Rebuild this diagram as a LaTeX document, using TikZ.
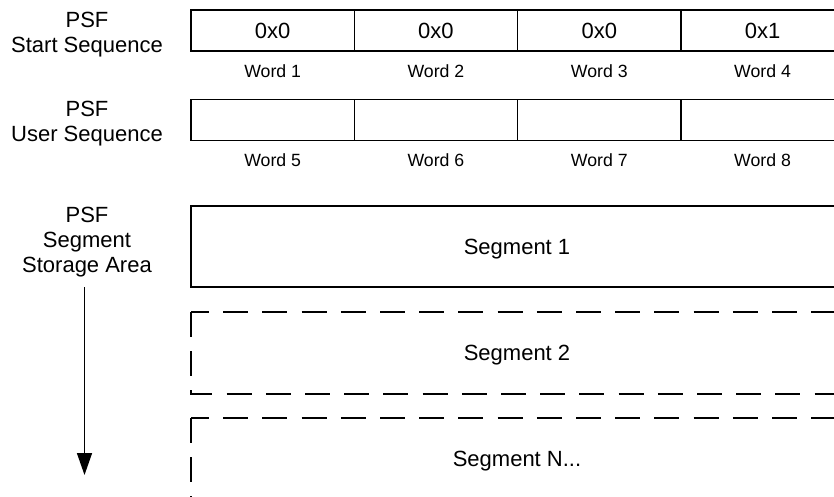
\documentclass[tikz,border=0pt]{standalone}
\usepackage{fontspec}
\setmainfont{Liberation Sans}
\usetikzlibrary{arrows.meta}

\newcommand{\bigfont}{\fontsize{22}{25}\selectfont}
\newcommand{\wordfont}{\fontsize{17.7}{21}\selectfont}

\tikzset{
    cell/.style={draw, line width=1.5pt, minimum width=163.3pt, minimum height=41pt, inner sep=0pt, font=\bigfont},
    wordlbl/.style={inner sep=0pt, font=\wordfont},
    sidelbl/.style={anchor=north, align=center, inner sep=0pt, font=\bigfont},
    segbox/.style={draw, line width=1.5pt, minimum width=652pt, minimum height=81pt, inner sep=0pt, text depth=0pt, font=\bigfont},
    segfree/.style={minimum width=652pt, minimum height=82pt, inner sep=0pt, outer sep=0pt, text depth=0pt, font=\bigfont},
    dashline/.style={line width=1.5pt, dash pattern=on 25pt off 14.2pt}
}

\begin{document}
\begin{tikzpicture}[x=1pt, y=-1pt]
    \clip (0,0) rectangle (834,497);
    \pgfmathsetmacro{\xa}{272.65}
    \pgfmathsetmacro{\xb}{\xa+163.3}
    \pgfmathsetmacro{\xc}{\xb+163.3}
    \pgfmathsetmacro{\xd}{\xc+163.3}

    % start sequence
    \node[cell] (s1) at (\xa,30.5) {0x0};
    \node[cell] (s2) at (\xb,30.5) {0x0};
    \node[cell] (s3) at (\xc,30.5) {0x0};
    \node[cell] (s4) at (\xd,30.5) {0x1};
    \node[wordlbl] (w1) at (\xa,71.5) {Word 1};
    \node[wordlbl] (w2) at (\xb,71.5) {Word 2};
    \node[wordlbl] (w3) at (\xc,71.5) {Word 3};
    \node[wordlbl] (w4) at (\xd,71.5) {Word 4};

    % user sequence
    \node[cell] (u1) at (\xa,120) {};
    \node[cell] (u2) at (\xb,120) {};
    \node[cell] (u3) at (\xc,120) {};
    \node[cell] (u4) at (\xd,120) {};
    \node[wordlbl] (w5) at (\xa,160.5) {Word 5};
    \node[wordlbl] (w6) at (\xb,160.5) {Word 6};
    \node[wordlbl] (w7) at (\xc,160.5) {Word 7};
    \node[wordlbl] (w8) at (\xd,160.5) {Word 8};

    % segments
    \node[segbox] (seg1) at (517,246.5) {Segment 1};
    \node[segfree] (seg2) at (517,353) {Segment 2};
    \node[segfree] (segN) at (517,459) {Segment N...};
    \draw[dashline, dash phase=7pt] (seg2.north west) -- (seg2.north east);
    \draw[dashline] (seg2.north west) -- (seg2.south west) -- (seg2.south east);
    \draw[dashline, dash phase=7pt] (segN.north west) -- (segN.north east);
    \draw[dashline] (segN.north west) -- (segN.south west);

    \node[sidelbl] (start) at (87,12) {PSF\\Start Sequence};
    \node[sidelbl] (user) at (87,101) {PSF\\User Sequence};
    \node[sidelbl] (area) at (87,207) {PSF\\Segment\\Storage Area};

    \coordinate (P) at (84.5,287);
    \coordinate (Q) at (84.5,475);
    \draw[line width=1.5pt, -{Triangle[length=22pt, width=15pt]}] (P) -- (Q);
\end{tikzpicture}
\end{document}
